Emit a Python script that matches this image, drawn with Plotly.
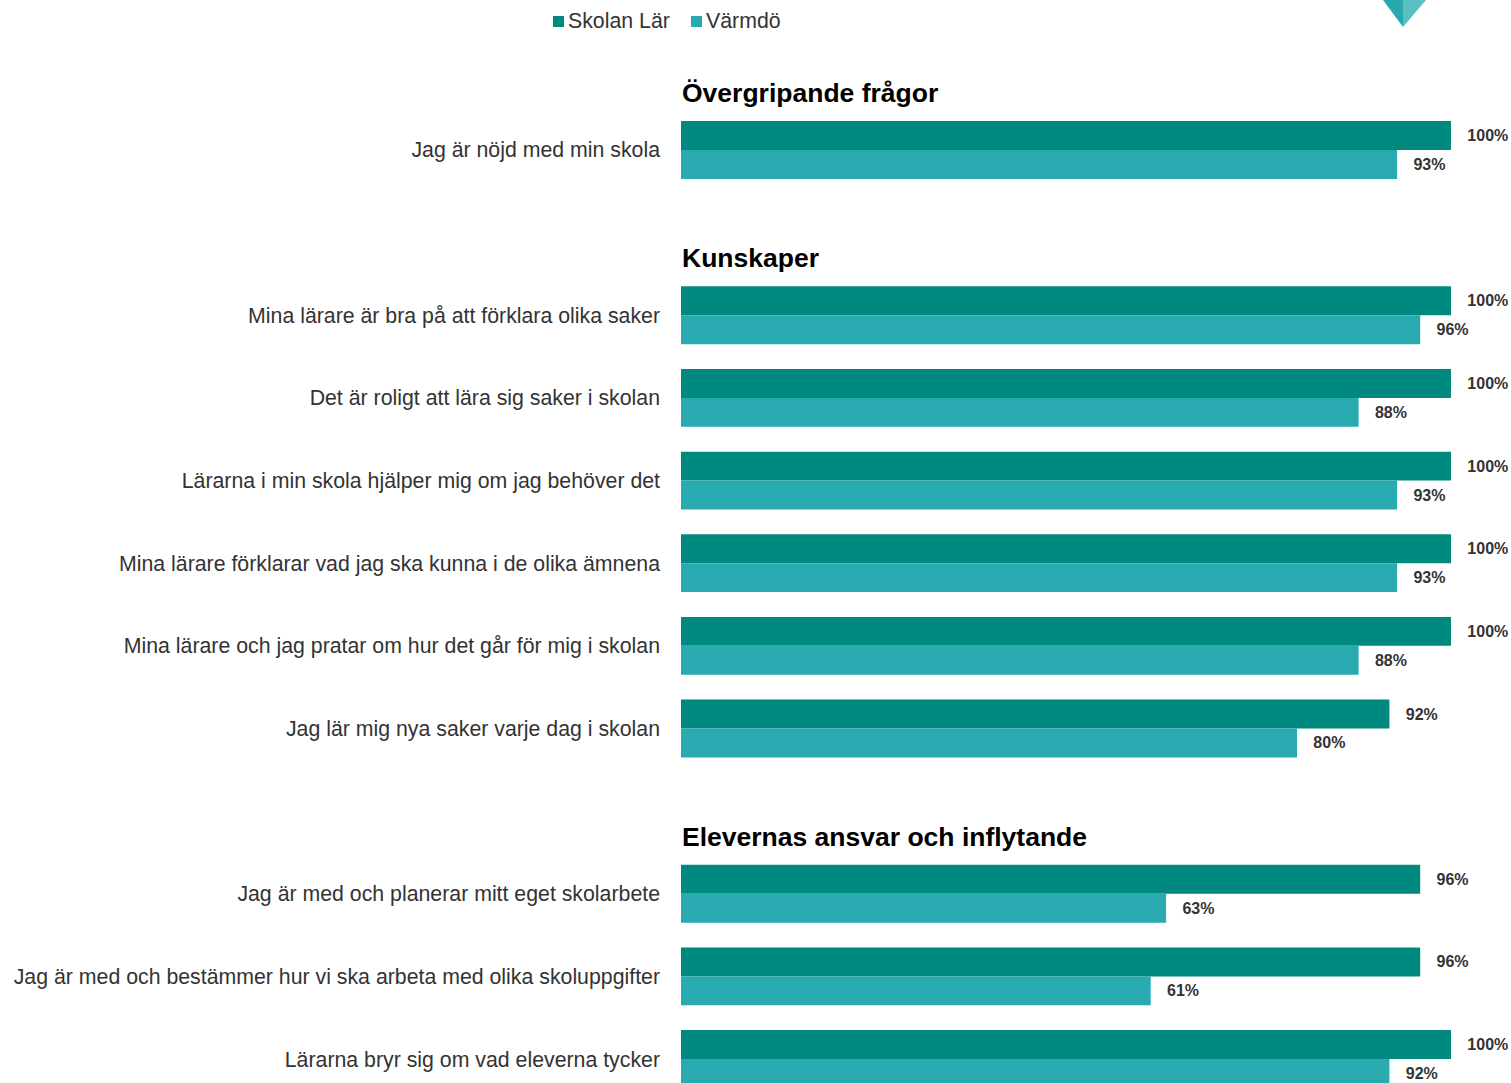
import plotly.graph_objects as go

# ---- data ----
sections = ["Övergripande frågor", "Kunskaper", "Elevernas ansvar och inflytande"]
questions = [
    ["Jag är nöjd med min skola"],
    ["Mina lärare är bra på att förklara olika saker",
     "Det är roligt att lära sig saker i skolan",
     "Lärarna i min skola hjälper mig om jag behöver det",
     "Mina lärare förklarar vad jag ska kunna i de olika ämnena",
     "Mina lärare och jag pratar om hur det går för mig i skolan",
     "Jag lär mig nya saker varje dag i skolan"],
    ["Jag är med och planerar mitt eget skolarbete",
     "Jag är med och bestämmer hur vi ska arbeta med olika skoluppgifter",
     "Lärarna bryr sig om vad eleverna tycker"],
]
skolan_lar = [[100], [100, 100, 100, 100, 100, 92], [96, 96, 100]]
varmdo = [[93], [96, 88, 93, 93, 88, 80], [63, 61, 92]]
series_names = ["Skolan Lär", "Värmdö"]
colors = ["#00897e", "#29a9b0"]

# ---- build category order with spacer slots between sections ----
cat_order = []
all_q, all_s, all_v = [], [], []
for i, qs in enumerate(questions):
    if i > 0:
        cat_order.append(f"__gap{i}__")
    cat_order.extend(qs)
    all_q.extend(qs)
    all_s.extend(skolan_lar[i])
    all_v.extend(varmdo[i])

W, H = 1511, 1083
L, R = 681, 60
PW = W - L - R
font_family = "Liberation Sans, Arial, sans-serif"

fig = go.Figure()
for name, vals, col in zip(series_names, [all_s, all_v], colors):
    fig.add_trace(go.Bar(
        y=all_q, x=vals, name=name, orientation="h",
        marker=dict(color=col, line=dict(width=0)),
        text=vals, texttemplate="\u00a0\u00a0\u00a0%{x}%",
        textposition="outside", cliponaxis=False,
        textfont=dict(family=font_family, size=16, color="#333333", weight="bold"),
        hoverinfo="skip", showlegend=False,
    ))


def px(x):
    return (x - L) / PW


def py(y):
    return 1 - y / H


# section headers
annotations = []
for sec, qs in zip(sections, questions):
    annotations.append(dict(
        x=0, y=qs[0], xref="x", yref="y", text=sec, showarrow=False,
        xanchor="left", yanchor="middle", yshift=57, xshift=-1,
        font=dict(family=font_family, size=26.5, color="#000000", weight="bold"),
    ))

shapes = []
# custom legend
legend_pos = [(553, 566), (691, 704)]
for name, col, (sx, tx) in zip(series_names, colors, legend_pos):
    shapes.append(dict(type="rect", xref="paper", yref="paper",
                       x0=px(sx), x1=px(sx + 11), y0=py(27), y1=py(16),
                       fillcolor=col, line=dict(width=0)))
    annotations.append(dict(x=px(tx), y=py(21), xref="paper", yref="paper",
                            text=name, showarrow=False, xanchor="left",
                            yanchor="middle",
                            font=dict(family=font_family, size=21.3, color="#333333")))

# decorative logo fragment top-right
shapes += [
    dict(type="path", xref="paper", yref="paper",
         path=f"M {px(1383)} {py(0)} L {px(1403)} {py(0)} L {px(1403)} {py(27)} Z",
         fillcolor="#29a9ae", line=dict(width=0)),
    dict(type="path", xref="paper", yref="paper",
         path=f"M {px(1403)} {py(0)} L {px(1426)} {py(0)} L {px(1403)} {py(27)} Z",
         fillcolor="#5bbec0", line=dict(width=0)),
]

slot = 82.64
top_c = 150
fig.update_layout(
    width=W, height=H,
    margin=dict(l=L, r=R, t=0, b=0),
    paper_bgcolor="white", plot_bgcolor="white",
    barmode="group", bargap=0.3, bargroupgap=0,
    showlegend=False,
    xaxis=dict(range=[0, 100], visible=False, showgrid=False, zeroline=False),
    yaxis=dict(type="category", categoryorder="array", categoryarray=cat_order,
               range=[(H - top_c) / slot, -top_c / slot],
               tickmode="array", tickvals=all_q, ticktext=all_q,
               showgrid=False, zeroline=False, showline=False, ticks="",
               ticklabelstandoff=20,
               tickfont=dict(family=font_family, size=21.3, color="#333333")),
    annotations=annotations, shapes=shapes,
    font=dict(family=font_family),
)

fig.write_html(
    "out.html",
    config={"displayModeBar": False},
    post_script="document.body.style.margin='0';"
                "document.documentElement.style.overflow='hidden';"
                "document.body.style.overflow='hidden';",
)
